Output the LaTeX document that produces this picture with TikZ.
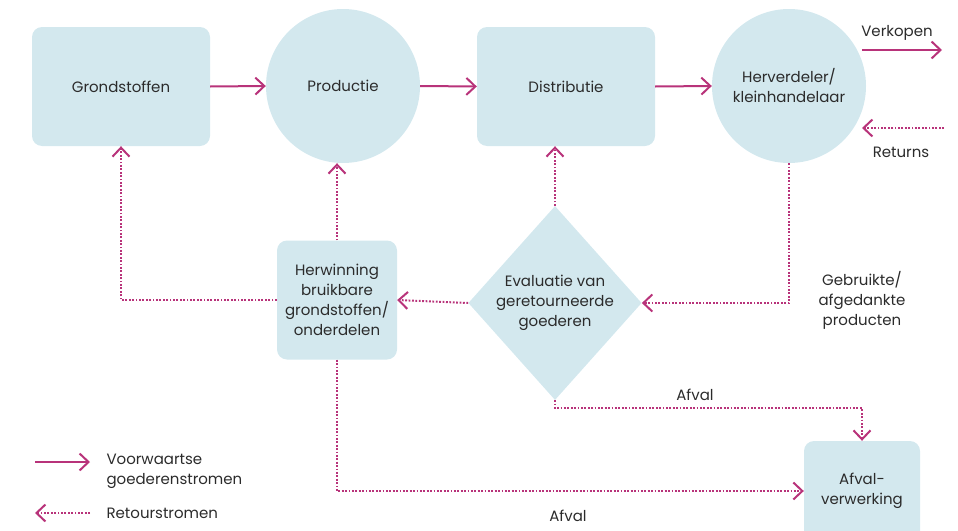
\documentclass[tikz,border=0pt]{standalone}
\usepackage{fontspec}
\setmainfont{Poppins}
\usetikzlibrary{arrows.meta, shapes.geometric}
\definecolor{boxblue}{HTML}{D3E8EE}
\definecolor{flow}{HTML}{B8337A}
\definecolor{txt}{HTML}{2B2B2B}
\tikzset{
  base/.style={fill=boxblue, text=txt, align=center, inner sep=0pt, font=\fontsize{15}{20}\selectfont},
  box/.style={base, rounded corners=10pt, minimum width=178pt, minimum height=119pt},
  rond/.style={base, circle, minimum size=154pt},
  ruit/.style={base, diamond, minimum width=170pt, minimum height=194pt},
  forward/.style={draw=flow, line width=2pt, -{Straight Barb[length=9pt,width=17pt]}},
  retour/.style={forward, dash pattern=on 1.8pt off 1.6pt},
  lbl/.style={text=txt, align=center, font=\fontsize{15}{20}\selectfont}
}

\begin{document}
\begin{tikzpicture}[x=1pt, y=-1pt]
  \useasboundingbox (0,0) rectangle (958,530);
  \clip (0,0) rectangle (958,530);

  % keten
  \node[box] (grond) at (121,86.5) {Grondstoffen};
  \node[rond] (prod) at (343,86) {Productie};
  \node[box] (distr) at (566,86.5) {Distributie};
  \node[rond] (herv) at (789,86) {Herverdeler/\\kleinhandelaar};

  % retour
  \node[box, minimum width=120pt] (herw) at (337,300) {Herwinning\\bruikbare\\grondstoffen/\\onderdelen};
  \node[ruit] (eval) at (555,303) {Evaluatie van\\geretourneerde\\goederen};
  \node[box, minimum width=116pt, minimum height=100pt] (afval) at (862,491) {Afval-\\verwerking};

  \draw[forward] (grond.east) -- (prod.west);
  \draw[forward] (prod.east) -- (distr.west);
  \draw[forward] (distr.east) -- (herv.west);

  \coordinate (verkA) at (862,50);
  \coordinate (verkB) at (942,50);
  \draw[forward] (verkA) -- (verkB);
  \node[lbl] (verk) at (897,33) {Verkopen};

  \coordinate (retA) at (944,128);
  \coordinate (retB) at (862,128);
  \draw[retour] (retA) -- (retB);
  \node[lbl] (ret) at (901,152) {Returns};

  \draw[retour] (herv.south) |- (eval.east);
  \node[lbl] (gebr) at (862,300) {Gebruikte/\\afgedankte\\producten};

  \draw[retour] (eval.north) -- (eval.north |- distr.south);
  \draw[retour] (eval.west) -- (herw.east);
  \draw[retour] (herw.north) -- (herw.north |- prod.south);
  \draw[retour] (herw.west) -| (grond.south);

  \draw[retour] (eval.south) -- ++(0,8) -| (afval.north);
  \node[lbl] (afvalA) at (695,395) {Afval};
  \draw[retour] (herw.south) |- (afval.west);
  \node[lbl] (afvalB) at (568,516) {Afval};

  % legenda
  \coordinate (legA) at (35,462);
  \coordinate (legB) at (90,462);
  \draw[forward] (legA) -- (legB);
  \node[lbl, anchor=west, align=left] (legvw) at (103,471) {Voorwaartse\\goederenstromen};
  \coordinate (legC) at (90,513);
  \coordinate (legD) at (35,513);
  \draw[retour] (legC) -- (legD);
  \node[lbl, anchor=west] (legrt) at (103,513) {Retourstromen};
\end{tikzpicture}
\end{document}
